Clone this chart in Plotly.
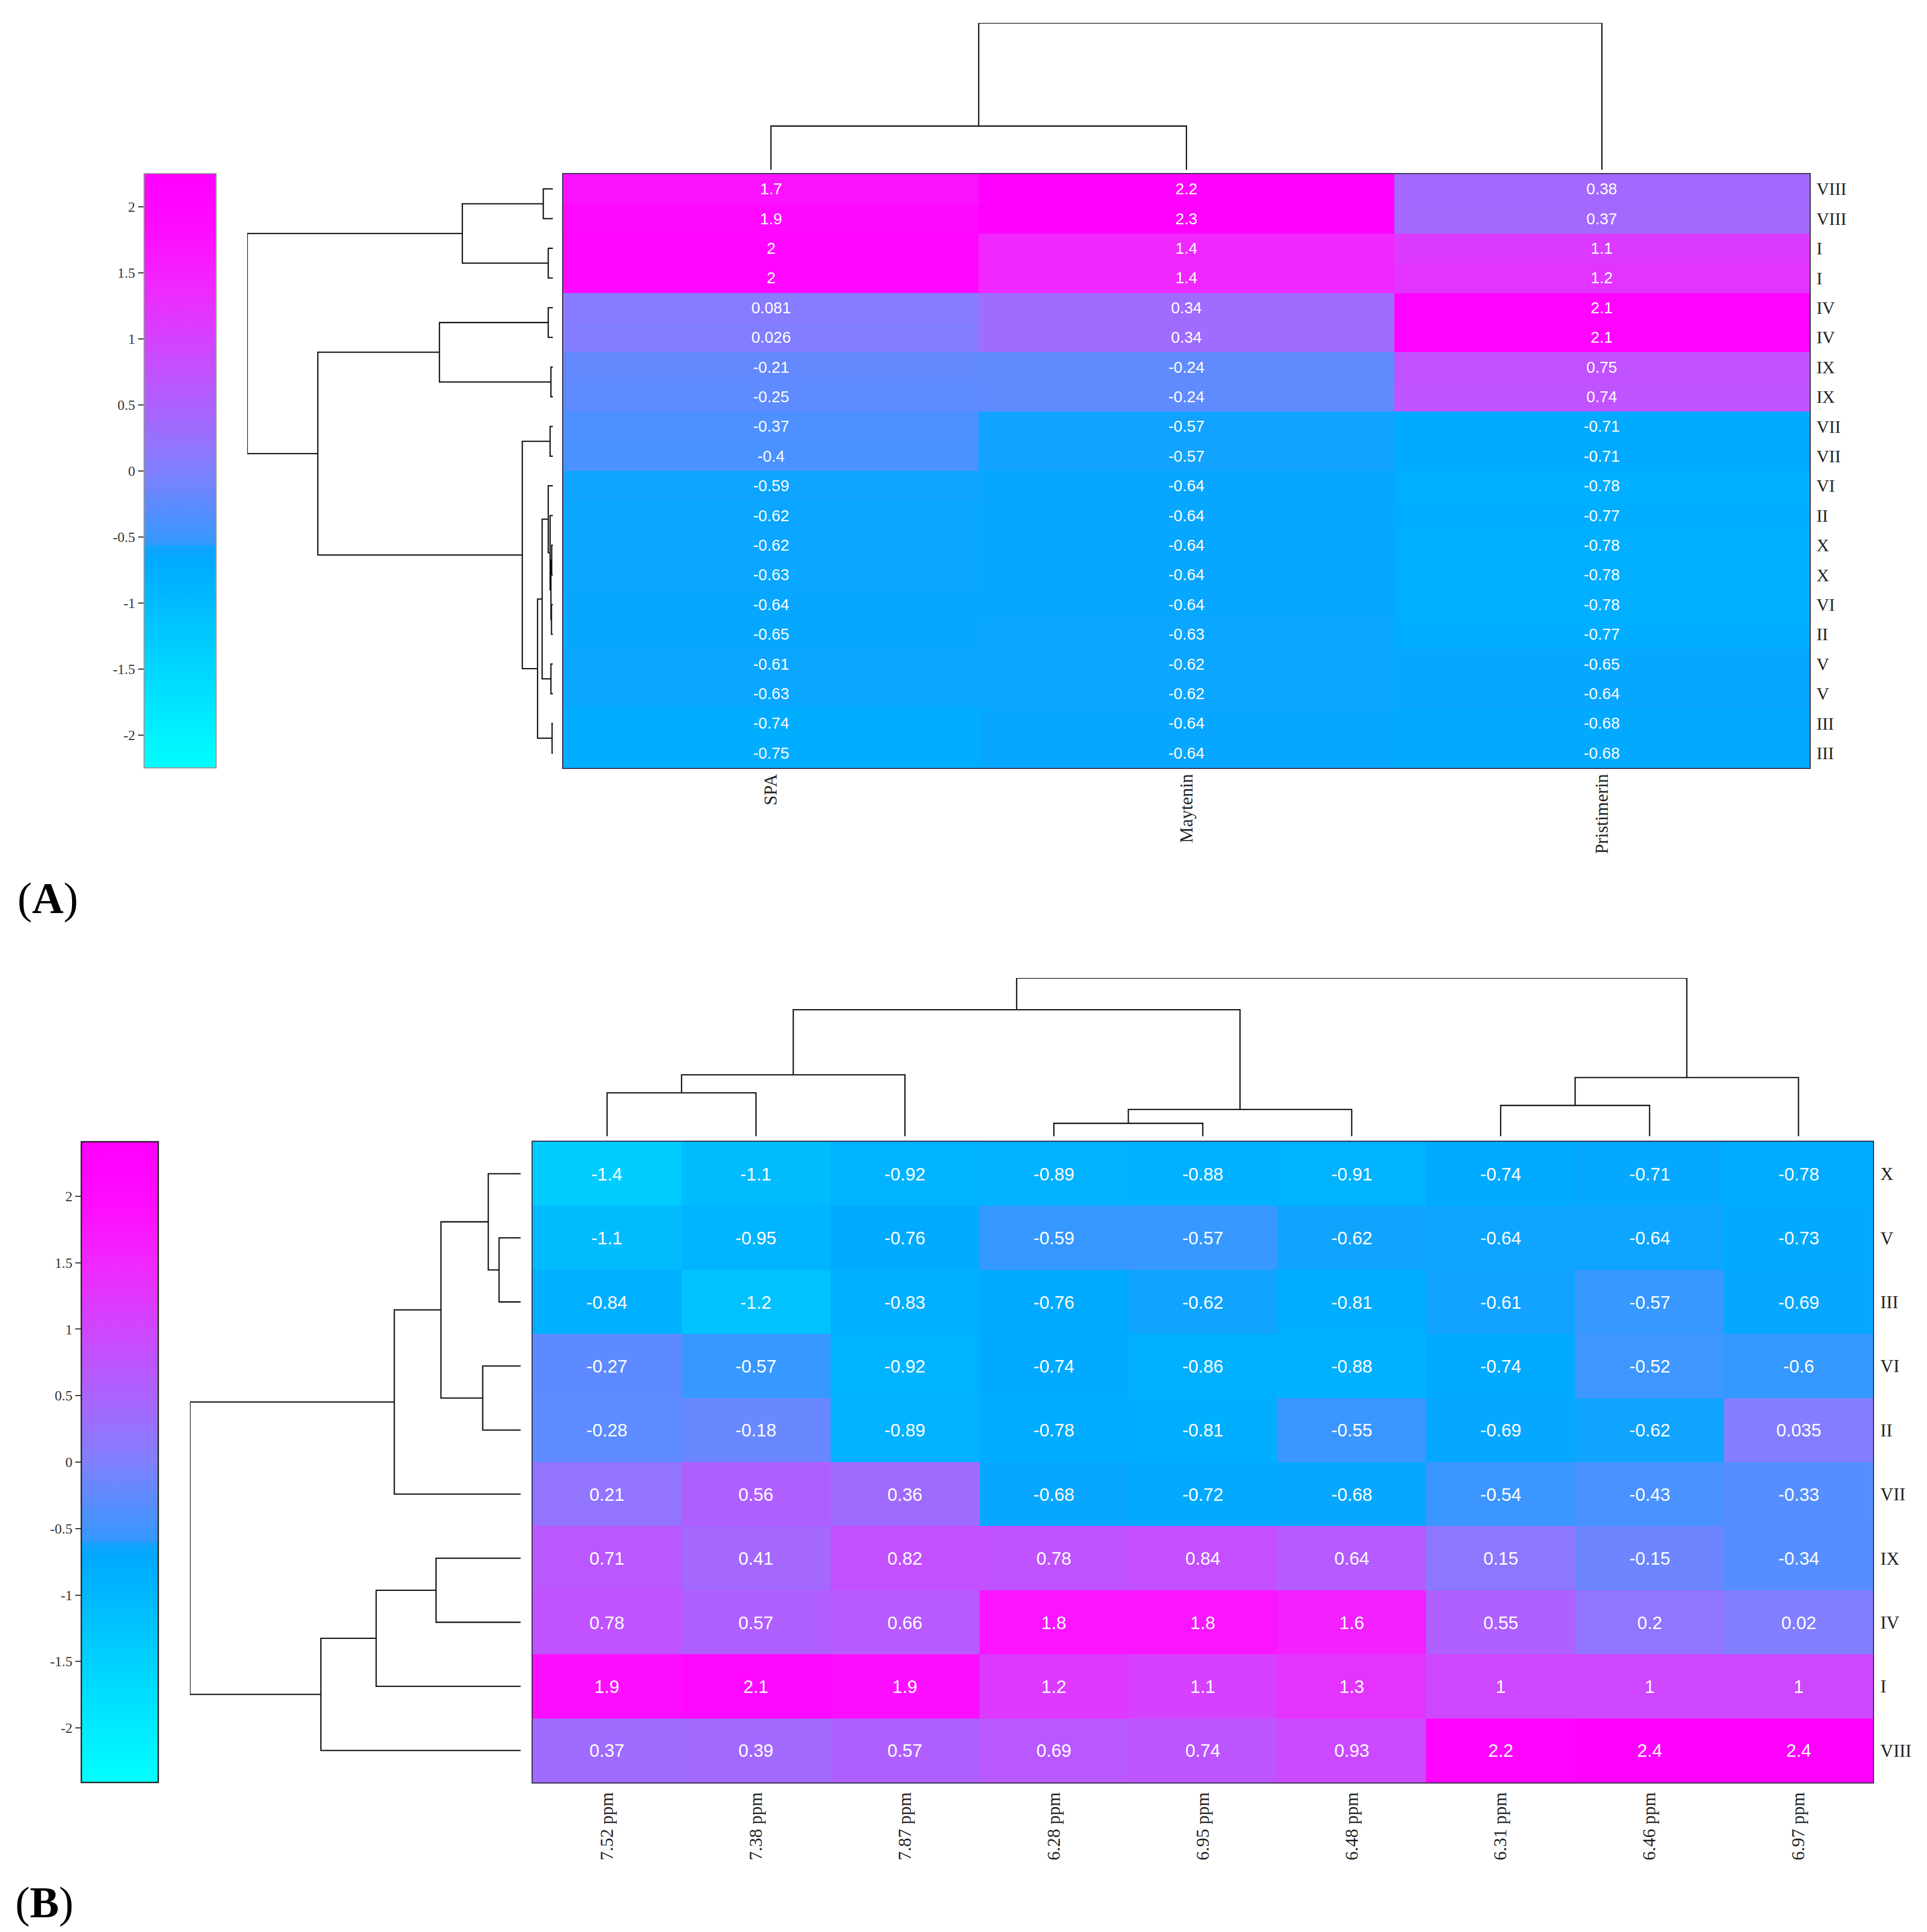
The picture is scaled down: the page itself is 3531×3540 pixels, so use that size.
import plotly.graph_objects as go

# ---------------- DATA ----------------
# Panel A
cols_A = ["SPA", "Maytenin", "Pristimerin"]
rows_A = ["VIII", "VIII", "I", "I", "IV", "IV", "IX", "IX", "VII", "VII",
          "VI", "II", "X", "X", "VI", "II", "V", "V", "III", "III"]
spa_A = [1.7, 1.9, 2, 2, 0.081, 0.026, -0.21, -0.25, -0.37, -0.4,
         -0.59, -0.62, -0.62, -0.63, -0.64, -0.65, -0.61, -0.63, -0.74, -0.75]
maytenin_A = [2.2, 2.3, 1.4, 1.4, 0.34, 0.34, -0.24, -0.24, -0.57, -0.57,
              -0.64, -0.64, -0.64, -0.64, -0.64, -0.63, -0.62, -0.62, -0.64, -0.64]
pristimerin_A = [0.38, 0.37, 1.1, 1.2, 2.1, 2.1, 0.75, 0.74, -0.71, -0.71,
                 -0.78, -0.77, -0.78, -0.78, -0.78, -0.77, -0.65, -0.64, -0.68, -0.68]

# linkage (leaf/cluster index a, leaf/cluster index b, distance) - leaves in display order
row_link_A = [
    (0, 1, 0.175), (2, 3, 0.084), (20, 21, 1.66), (4, 5, 0.084), (6, 7, 0.035),
    (23, 24, 2.08), (8, 9, 0.05), (12, 13, 0.02), (14, 15, 0.025), (27, 28, 0.035),
    (11, 29, 0.05), (10, 30, 0.084), (16, 17, 0.035), (31, 32, 0.196), (18, 19, 0.014),
    (33, 34, 0.28), (26, 35, 0.56), (25, 36, 4.31), (22, 37, 5.605),
]
col_link_A = [(0, 1, 0.80), (3, 2, 2.69)]

# Panel B
cols_B = ["7.52 ppm", "7.38 ppm", "7.87 ppm", "6.28 ppm", "6.95 ppm",
          "6.48 ppm", "6.31 ppm", "6.46 ppm", "6.97 ppm"]
rows_B = ["X", "V", "III", "VI", "II", "VII", "IX", "IV", "I", "VIII"]
row_X = [-1.4, -1.1, -0.92, -0.89, -0.88, -0.91, -0.74, -0.71, -0.78]
row_V = [-1.1, -0.95, -0.76, -0.59, -0.57, -0.62, -0.64, -0.64, -0.73]
row_III = [-0.84, -1.2, -0.83, -0.76, -0.62, -0.81, -0.61, -0.57, -0.69]
row_VI = [-0.27, -0.57, -0.92, -0.74, -0.86, -0.88, -0.74, -0.52, -0.6]
row_II = [-0.28, -0.18, -0.89, -0.78, -0.81, -0.55, -0.69, -0.62, 0.035]
row_VII = [0.21, 0.56, 0.36, -0.68, -0.72, -0.68, -0.54, -0.43, -0.33]
row_IX = [0.71, 0.41, 0.82, 0.78, 0.84, 0.64, 0.15, -0.15, -0.34]
row_IV = [0.78, 0.57, 0.66, 1.8, 1.8, 1.6, 0.55, 0.2, 0.02]
row_I = [1.9, 2.1, 1.9, 1.2, 1.1, 1.3, 1, 1, 1]
row_VIII = [0.37, 0.39, 0.57, 0.69, 0.74, 0.93, 2.2, 2.4, 2.4]

row_link_B = [
    (1, 2, 0.395), (0, 10, 0.593), (3, 4, 0.695), (11, 12, 1.46), (13, 5, 2.315),
    (6, 7, 1.55), (15, 8, 2.647), (16, 9, 3.66), (14, 17, 6.06),
]
col_link_B = [
    (0, 1, 0.794), (9, 2, 1.124), (3, 4, 0.237), (11, 5, 0.49), (10, 12, 2.314),
    (6, 7, 0.564), (14, 8, 1.074), (13, 15, 2.894),
]

cbar_ticks = [-2, -1.5, -1, -0.5, 0, 0.5, 1, 1.5, 2]
cbar_ticktext = ["-2", "-1.5", "-1", "-0.5", "0", "0.5", "1", "1.5", "2"]
range_A = 2.25
range_B = 2.41

# ---------------- STYLE ----------------
PAGE_W, PAGE_H = 3531, 3540
BODY_MARGIN = 8  # default browser body margin around the plot div
W, H = PAGE_W - 2 * BODY_MARGIN, PAGE_H - 2 * BODY_MARGIN
SERIF = "Liberation Serif, Times New Roman, serif"
SANS = "Liberation Sans, Arial, sans-serif"
LABEL_COLOR = "#222222"

colorscale = [
    [0.0, "rgb(0,255,255)"],
    [0.347, "rgb(0,170,255)"],
    [0.3745, "rgb(18,163,255)"],
    [0.375, "rgb(51,153,255)"],
    [0.5, "rgb(128,128,255)"],
    [0.6, "rgb(170,100,255)"],
    [0.7, "rgb(205,72,255)"],
    [0.8, "rgb(238,42,255)"],
    [0.9, "rgb(255,12,255)"],
    [1.0, "rgb(255,0,255)"],
]


def fx(px):
    return (px - BODY_MARGIN) / W


def fy(py):
    return 1 - (py - BODY_MARGIN) / H


def fmt(v):
    return f"{v:g}"


def dendro_lines(n_leaves, links):
    pos = list(range(n_leaves))
    hgt = [0.0] * n_leaves
    p_coords, h_coords = [], []
    for a, b, h in links:
        pa, pb, ha, hb = pos[a], pos[b], hgt[a], hgt[b]
        p_coords += [pa, pa, pb, pb, None]
        h_coords += [ha, h, h, hb, None]
        pos.append((pa + pb) / 2)
        hgt.append(h)
    return p_coords, h_coords


z_A = [list(r) for r in zip(spa_A, maytenin_A, pristimerin_A)]
z_B = [row_X, row_V, row_III, row_VI, row_II, row_VII, row_IX, row_IV, row_I, row_VIII]
text_A = [[fmt(v) for v in r] for r in z_A]
text_B = [[fmt(v) for v in r] for r in z_B]

fig = go.Figure()

fig.add_trace(go.Heatmap(
    z=z_A, x=list(range(len(cols_A))), y=list(range(len(rows_A))),
    text=text_A, texttemplate="%{text}",
    textfont=dict(family=SANS, size=29, color="white"),
    coloraxis="coloraxis", xaxis="x", yaxis="y", hoverinfo="skip",
))
fig.add_trace(go.Heatmap(
    z=z_B, x=list(range(len(cols_B))), y=list(range(len(rows_B))),
    text=text_B, texttemplate="%{text}",
    textfont=dict(family=SANS, size=33, color="white"),
    coloraxis="coloraxis2", xaxis="x2", yaxis="y2", hoverinfo="skip",
))

line_style = dict(color="#111111", width=2.3)

# Panel A dendrograms
p, h = dendro_lines(len(rows_A), row_link_A)
fig.add_trace(go.Scatter(x=h, y=p, mode="lines", line=line_style, xaxis="x3", yaxis="y",
                         hoverinfo="skip", showlegend=False, cliponaxis=False))
p, h = dendro_lines(len(cols_A), col_link_A)
fig.add_trace(go.Scatter(x=p, y=h, mode="lines", line=line_style, xaxis="x", yaxis="y3",
                         hoverinfo="skip", showlegend=False, cliponaxis=False))
# Panel B dendrograms
p, h = dendro_lines(len(rows_B), row_link_B)
fig.add_trace(go.Scatter(x=h, y=p, mode="lines", line=line_style, xaxis="x4", yaxis="y2",
                         hoverinfo="skip", showlegend=False, cliponaxis=False))
p, h = dendro_lines(len(cols_B), col_link_B)
fig.add_trace(go.Scatter(x=p, y=h, mode="lines", line=line_style, xaxis="x2", yaxis="y4",
                         hoverinfo="skip", showlegend=False, cliponaxis=False))

# placeholder traces that carry the colour-bar label axes
for ax in ("5", "6"):
    fig.add_trace(go.Scatter(x=[None], y=[None], mode="markers", xaxis="x" + ax, yaxis="y" + ax,
                             hoverinfo="skip", showlegend=False))

# geometry (page pixels)
A_heat = dict(x0=1032, x1=3316, y0=319, y1=1407)
B_heat = dict(x0=976, x1=3432, y0=2092, y1=3266)
A_cbar = dict(x0=264, x1=396, y0=318, y1=1407)
B_cbar = dict(x0=149, x1=290, y0=2092, y1=3266)

heat_x_common = dict(ticks="", showgrid=False, zeroline=False, showline=True, mirror=True,
                     linecolor="#3a3050", linewidth=2, tickangle=-90,
                     tickfont=dict(family=SERIF, size=33, color=LABEL_COLOR))
heat_y_common = dict(ticks="", showgrid=False, zeroline=False, showline=True, mirror=True,
                     linecolor="#3a3050", linewidth=2, side="right",
                     tickfont=dict(family=SERIF, size=32, color=LABEL_COLOR))
hidden = dict(visible=False, showgrid=False, zeroline=False)

cbar_axis_common = dict(tickvals=cbar_ticks, ticktext=cbar_ticktext, ticks="outside", ticklen=10,
                        tickwidth=2, tickcolor="#333333", showgrid=False, zeroline=False,
                        showline=False, side="left",
                        tickfont=dict(family=SERIF, size=26, color="#333333"))

fig.update_layout(
    width=W, height=H, margin=dict(l=0, r=0, t=0, b=0),
    paper_bgcolor="white", plot_bgcolor="white", showlegend=False,
    xaxis=dict(domain=[fx(A_heat["x0"]), fx(A_heat["x1"])], range=[-0.5, len(cols_A) - 0.5],
               anchor="y", tickvals=list(range(len(cols_A))), ticktext=cols_A,
               ticklabelstandoff=-4, **heat_x_common),
    yaxis=dict(domain=[fy(A_heat["y1"]), fy(A_heat["y0"])], range=[len(rows_A) - 0.5, -0.5],
               anchor="x", tickvals=list(range(len(rows_A))), ticktext=rows_A,
               ticklabelstandoff=4, **heat_y_common),
    xaxis2=dict(domain=[fx(B_heat["x0"]), fx(B_heat["x1"])], range=[-0.5, len(cols_B) - 0.5],
                anchor="y2", tickvals=list(range(len(cols_B))), ticktext=cols_B,
                ticklabelstandoff=3, **heat_x_common),
    yaxis2=dict(domain=[fy(B_heat["y1"]), fy(B_heat["y0"])], range=[len(rows_B) - 0.5, -0.5],
                anchor="x2", tickvals=list(range(len(rows_B))), ticktext=rows_B,
                ticklabelstandoff=5,
                **{**heat_y_common, "tickfont": dict(family=SERIF, size=33, color=LABEL_COLOR)}),
    xaxis3=dict(domain=[fx(453), fx(1013)], range=[row_link_A[-1][2], 0], anchor="y", **hidden),
    yaxis3=dict(domain=[fy(311), fy(42)], range=[0, col_link_A[-1][2]], anchor="x", **hidden),
    xaxis4=dict(domain=[fx(348), fx(954)], range=[row_link_B[-1][2], 0], anchor="y2", **hidden),
    yaxis4=dict(domain=[fy(2082), fy(1792)], range=[0, col_link_B[-1][2]], anchor="x2", **hidden),
    xaxis5=dict(domain=[fx(A_cbar["x0"]), fx(A_cbar["x1"])], range=[0, 1], anchor="y5", **hidden),
    yaxis5=dict(domain=[fy(A_cbar["y1"]), fy(A_cbar["y0"])], range=[-range_A, range_A],
                anchor="x5", **cbar_axis_common),
    xaxis6=dict(domain=[fx(B_cbar["x0"]), fx(B_cbar["x1"])], range=[0, 1], anchor="y6", **hidden),
    yaxis6=dict(domain=[fy(B_cbar["y1"]), fy(B_cbar["y0"])], range=[-range_B, range_B],
                anchor="x6", **cbar_axis_common),
    coloraxis=dict(
        cmin=-range_A, cmax=range_A, colorscale=colorscale,
        colorbar=dict(x=fx(A_cbar["x0"]), xanchor="left", y=fy(A_cbar["y0"]), yanchor="top",
                      len=(A_cbar["y1"] - A_cbar["y0"]) / H, lenmode="fraction",
                      thickness=A_cbar["x1"] - A_cbar["x0"], thicknessmode="pixels",
                      xpad=0, ypad=0, outlinewidth=2, outlinecolor="#9a9a9a",
                      showticklabels=False, ticks="", borderwidth=0),
    ),
    coloraxis2=dict(
        cmin=-range_B, cmax=range_B, colorscale=colorscale,
        colorbar=dict(x=fx(B_cbar["x0"]), xanchor="left", y=fy(B_cbar["y0"]), yanchor="top",
                      len=(B_cbar["y1"] - B_cbar["y0"]) / H, lenmode="fraction",
                      thickness=B_cbar["x1"] - B_cbar["x0"], thicknessmode="pixels",
                      xpad=0, ypad=0, outlinewidth=2.5, outlinecolor="#222222",
                      showticklabels=False, ticks="", borderwidth=0),
    ),
    annotations=[
        dict(text="(<b>A</b>)", x=fx(30), y=fy(1646), xref="paper", yref="paper",
             xanchor="left", yanchor="middle", showarrow=False,
             font=dict(family=SERIF, size=80, color="black")),
        dict(text="(<b>B</b>)", x=fx(26), y=fy(3486), xref="paper", yref="paper",
             xanchor="left", yanchor="middle", showarrow=False,
             font=dict(family=SERIF, size=80, color="black")),
    ],
)

fig.write_html("out.html")
